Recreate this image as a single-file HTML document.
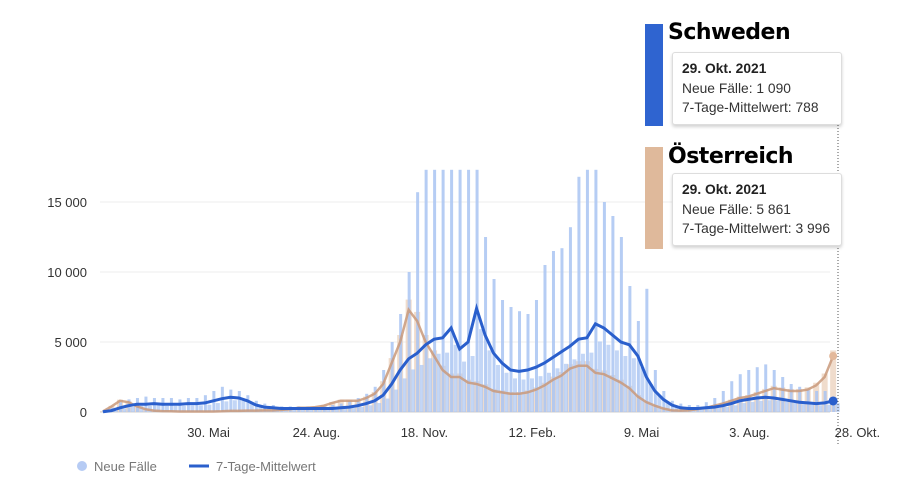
<!DOCTYPE html>
<html><head><meta charset="utf-8">
<style>
body{margin:0;background:#fff;font-family:"Liberation Sans",sans-serif;}
#wrap{position:relative;width:898px;height:484px;overflow:hidden;}
.tt{position:absolute;background:#fff;border:1px solid #ddd;border-radius:3px;box-shadow:0 2px 3px rgba(0,0,0,.18);font-size:13.8px;color:#333;padding:6px 9px;line-height:19.5px;white-space:nowrap;overflow:hidden;}
.tt b{color:#222;}
.ttl{position:absolute;font-weight:bold;font-size:22px;color:#000;font-family:"DejaVu Sans","Liberation Sans",sans-serif;letter-spacing:-0.5px;}
</style></head><body>
<div id="wrap">
<svg id="chart" width="898" height="484" style="position:absolute;left:0;top:0"></svg>
<div style="position:absolute;left:645px;top:24px;width:18px;height:102px;background:#2f64d0"></div>
<div class="ttl" style="left:668px;top:20px">Schweden</div>
<div class="tt" style="left:672px;top:52px;width:150px"><b>29. Okt. 2021</b><br>Neue Fälle: 1 090<br>7-Tage-Mittelwert: 788</div>
<div style="position:absolute;left:645px;top:147px;width:18px;height:102px;background:#dfb99b"></div>
<div class="ttl" style="left:668px;top:144px">Österreich</div>
<div class="tt" style="left:672px;top:173px;width:150px"><b>29. Okt. 2021</b><br>Neue Fälle: 5 861<br>7-Tage-Mittelwert: 3 996</div>
</div>
<script>
const yTicks=[0,5000,10000,15000];
const yTickLabels=["0","5 000","10 000","15 000"];
const xTickWeeks=[12.43,25.14,37.86,50.57,63.43,76.14,88.86];
const xTickLabels=["30. Mai","24. Aug.","18. Nov.","12. Feb.","9. Mai","3. Aug.","28. Okt."];
const swedenAvg=[20,100,300,450,550,550,600,550,550,550,600,600,650,800,950,1050,1000,800,500,350,300,250,250,250,250,250,250,250,300,350,450,600,800,1200,2000,3000,3800,4200,4800,5200,5300,6000,4500,5000,7400,5500,4200,3500,3000,2900,3000,3200,3500,3900,4300,4700,5200,5300,6300,6000,5500,5000,4800,4000,2500,1500,900,500,300,250,250,300,350,450,600,800,900,1000,1050,1000,900,800,700,650,600,650,788];
const swedenPeak=[100,300,700,900,1000,1100,1000,1000,1000,900,1000,1000,1200,1500,1800,1600,1500,1200,800,600,500,400,400,400,400,400,400,500,600,800,1000,1300,1800,3000,5000,7000,10000,15700,17300,17300,17300,17300,17300,17300,17300,12500,9500,8000,7500,7200,7000,8000,10500,11500,11700,13200,16800,17300,17300,15000,14000,12500,9000,6500,8800,3000,1500,800,600,500,500,700,1000,1500,2200,2700,3000,3200,3400,3000,2500,2000,1800,1600,1500,1500,1090];
const austriaAvg=[50,400,800,700,400,200,100,60,50,40,40,40,40,40,50,80,80,100,100,120,120,150,200,300,300,350,450,650,800,800,800,1000,1300,2000,3500,5000,7300,6500,5000,4000,3000,2500,2500,2100,2000,1800,1500,1400,1300,1300,1400,1600,1900,2300,2600,3100,3300,3300,2800,2700,2400,2100,1700,1100,700,450,250,120,100,120,200,300,450,600,800,1000,1100,1300,1500,1700,1600,1500,1500,1600,1900,2500,3996];
const x0=103,pxW=8.49,y0=412,pxV=70/5000;
const X=i=>x0+i*pxW, Y=v=>y0-v*pxV;
const svg=document.getElementById('chart');const NS="http://www.w3.org/2000/svg";
function mk(t,a){const e=document.createElementNS(NS,t);for(const k in a)e.setAttribute(k,a[k]);svg.appendChild(e);return e;}
yTicks.forEach((v,k)=>{
 const g=mk('line',{x1:100,x2:830,y1:Y(v),y2:Y(v),stroke:v?'#eee':'#ccc','stroke-width':1});
 
 
 const t=mk('text',{x:87,y:Y(v)+5,'text-anchor':'end','font-size':13,fill:'#333'});t.textContent=yTickLabels[k];
 
 
});
xTickWeeks.forEach((w,k)=>{
 const t=mk('text',{x:X(w),y:437,'text-anchor':'middle','font-size':13,fill:'#333'});t.textContent=xTickLabels[k];
 
 
});
austriaAvg.forEach((v,i)=>{
 const r=mk('rect',{x:X(i)-3,y:Y(v*1.1),width:6,height:v*1.1*pxV,fill:'#e9cdb6',opacity:0.7});
 
 
});
swedenPeak.forEach((v,i)=>{
 const r=mk('rect',{x:X(i)-1,y:Y(v),width:3,height:v*pxV,fill:'#a9c4f2',opacity:0.85});
 
 
 const a=swedenAvg[i];
 const r2=mk('rect',{x:X(i)+2.5,y:Y(a*0.8),width:4,height:a*0.8*pxV,fill:'#a9c4f2',opacity:0.7});
 
 
});
const pa=mk('polyline',{points:austriaAvg.map((v,i)=>X(i)+','+Y(v)).join(' '),fill:'none',stroke:'#c9997a','stroke-width':2.5,opacity:0.85});


const ps=mk('polyline',{points:swedenAvg.map((v,i)=>X(i)+','+Y(v)).join(' '),fill:'none',stroke:'#2a5fcc','stroke-width':3});


const last=swedenAvg.length-1;
const vl=mk('line',{x1:838,x2:838,y1:125,y2:445,stroke:'#555','stroke-width':1,'stroke-dasharray':'1,2'});


const d1=mk('circle',{cx:X(last),cy:Y(austriaAvg[last]),r:4,fill:'#e3b89a'});


const d2=mk('circle',{cx:X(last),cy:Y(swedenAvg[last]),r:4.5,fill:'#2a5fcc'});


const lc=mk('circle',{cx:82,cy:466,r:5,fill:'#b6cbf4'});


const lt=mk('text',{x:94,y:471,'font-size':13,fill:'#777'});lt.textContent='Neue Fälle';


const ll=mk('line',{x1:189,x2:209,y1:466,y2:466,stroke:'#2a5fcc','stroke-width':3});


const lt2=mk('text',{x:216,y:471,'font-size':13,fill:'#777'});lt2.textContent='7-Tage-Mittelwert';


</script>
</body></html>
